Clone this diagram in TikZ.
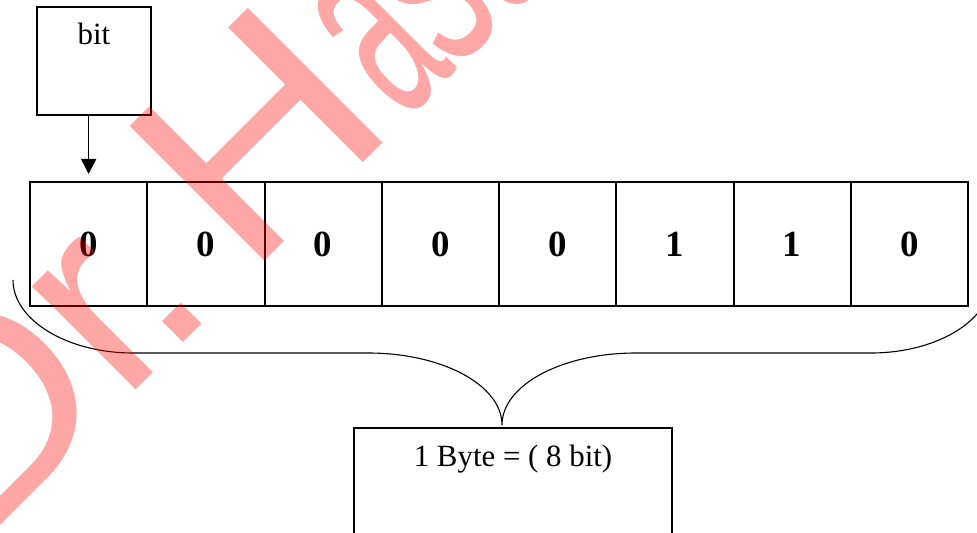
\documentclass[tikz,border=0pt]{standalone}
\usepackage{fontspec}
\usepackage{graphicx}
\setmainfont{Liberation Serif}
\newfontfamily\wmfont{Liberation Sans}
\usetikzlibrary{arrows.meta}
\begin{document}
\begin{tikzpicture}[x=1bp,y=-1bp,
  boxline/.style={draw=black, line width=2bp},
  cell/.style={boxline, minimum width=117.25bp, minimum height=124bp, inner sep=0pt,
    font=\fontsize{37}{37}\selectfont\bfseries},
  labelbox/.style={boxline, inner sep=0pt, anchor=north, font=\fontsize{31}{31}\selectfont},
  bracepath/.style={draw=black, line width=1.1bp},
  wm/.style={text=red, text opacity=0.35, inner sep=0pt, anchor=base west, rotate=45,
    font=\wmfont\fontsize{278}{278}\selectfont}]
\useasboundingbox (0,0) rectangle (977,533);
% bit label box
\node[labelbox, minimum width=114bp, text height=38bp, text depth=70bp] (bitbox) at (94,6) {bit};
% byte cells
\foreach \i/\v in {1/0,2/0,3/0,4/0,5/0,6/1,7/1,8/0}
  \node[cell] (c\i) at ({30+117.25*(\i-0.5)},244) {\v};
% byte box
\node[labelbox, minimum width=318bp, text height=38bp, text depth=80bp] (bytebox) at (513,427) {1 Byte = ( 8 bit)};
% arrow
\draw[line width=1.5bp, -{Triangle[width=15bp,length=15bp]}, shorten >=7bp]
  (c1.north |- bitbox.south) -- (c1.north);
% brace
\coordinate (braceL) at (13,280);
\coordinate (braceR) at (991,280);
\coordinate (bracetip) at (502,425);
\draw[bracepath] (braceL) .. controls (13,320) and (67,353) .. (133,353) -- (368,353)
  .. controls (442,353) and (502,385) .. (bracetip)
  .. controls (502,385) and (562,353) .. (636,353) -- (871,353)
  .. controls (937,353) and (991,320) .. (braceR);
% watermark
\begin{scope}
\clip (0,0) rectangle (977,533);
\node[wm] (wmD) at (-19.1,545.1) {Dr};
\node[wm] (wmdot) at (165.8,360.2) {.};
\node[wm] (wmH) at (247.1,278.9) {\scalebox{1.08}[1]{H}};
\node[wm] (wma) at (404.1,121.9) {\scalebox{0.49}[1]{a}};
\node[wm] (wms) at (453.9,72.1) {\scalebox{0.55}[1]{san}};
\end{scope}
\end{tikzpicture}
\end{document}
